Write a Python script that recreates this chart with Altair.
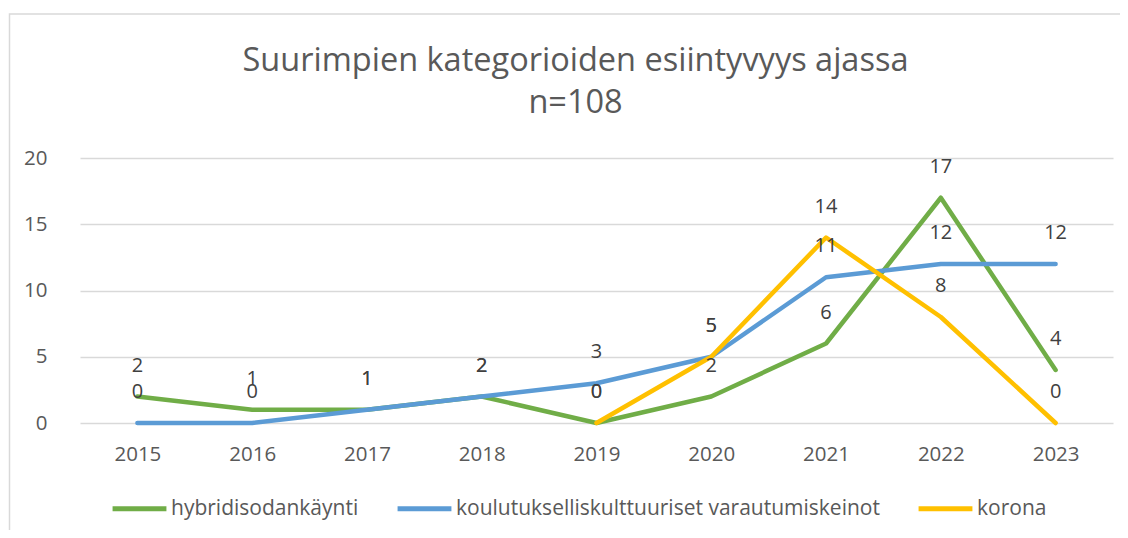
import altair as alt
import pandas as pd

years = ["2015", "2016", "2017", "2018", "2019", "2020", "2021", "2022", "2023"]
series_names = ["hybridisodankäynti", "koulutukselliskulttuuriset varautumiskeinot", "korona"]
hybrid = [2, 1, 1, 2, 0, 2, 6, 17, 4]
koulutus = [0, 0, 1, 2, 3, 5, 11, 12, 12]
korona = [None, None, None, None, 0, 5, 14, 8, 0]
colors = ["#70AD47", "#5B9BD5", "#FFC000"]

rows = []
for i, (name, vals) in enumerate(zip(series_names, [hybrid, koulutus, korona])):
    for y, v in zip(years, vals):
        if v is not None:
            rows.append({"vuosi": y, "sarja": name, "arvo": v, "o": i})
df = pd.DataFrame(rows)

FONT = "Open Sans, sans-serif"

x = alt.X("vuosi:O", scale=alt.Scale(type="point", padding=0.5, domain=years),
          axis=alt.Axis(title=None, labelAngle=0, domain=False, ticks=False,
                        labelPadding=21, labelFontSize=20.5, labelColor="#595959",
                        labelFont=FONT))
y = alt.Y("arvo:Q", scale=alt.Scale(domain=[0, 20]),
          axis=alt.Axis(title=None, values=[0, 5, 10, 15, 20], domain=False, ticks=False,
                        labelPadding=33, labelFontSize=20.5, labelColor="#595959",
                        labelFont=FONT, gridColor="#D9D9D9", gridWidth=1.3))

color = alt.Color("sarja:N", scale=alt.Scale(domain=series_names, range=colors),
                  legend=alt.Legend(title=None, orient="none", direction="horizontal",
                                    legendX=30, legendY=321,
                                    symbolType="stroke", symbolSize=2900,
                                    symbolStrokeWidth=5, labelFontSize=21,
                                    labelColor="#595959", labelFont=FONT,
                                    labelOffset=2, columnPadding=28,
                                    labelLimit=600))

frame = alt.Chart(pd.DataFrame({"k": [0]})).mark_rect(
    fill=None, stroke="#D9D9D9", strokeWidth=1.5
).encode(x=alt.value(-70.5), x2=alt.value(1060), y=alt.value(-144), y2=alt.value(390))

lines = alt.Chart(df).mark_line(strokeWidth=4.5, strokeCap="round", strokeJoin="round").encode(
    x=x, y=y, color=color, order=alt.Order("o:Q"), detail="sarja:N"
)

labels = alt.Chart(df).mark_text(dy=-31, fontSize=20, color="#404040", font=FONT).encode(
    x=x, y=y, text="arvo:Q"
)

chart = (frame + lines + labels).properties(
    width=1033, height=265,
    title=alt.TitleParams(text=["Suurimpien kategorioiden esiintyvyys ajassa", "n=108"],
                          fontSize=32.5, font=FONT, fontWeight="normal", color="#595959",
                          anchor="middle", frame="group", dx=-21, offset=-106, lineHeight=42),
    autosize=alt.AutoSizeParams(type="none"),
    padding={"left": 72, "top": 150, "right": 7, "bottom": 107},
).configure_view(stroke=None)

chart.save("out.html", embed_options={"renderer": "svg", "actions": False})
